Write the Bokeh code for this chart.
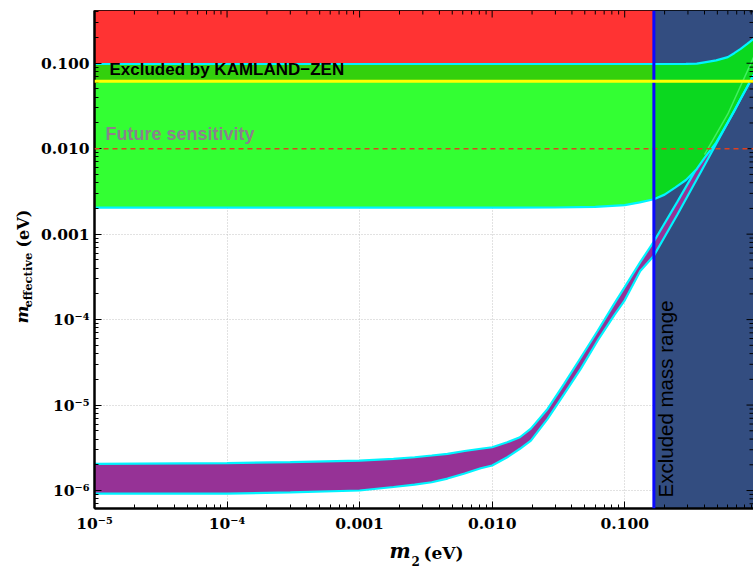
import numpy as np
from bokeh.plotting import figure
from bokeh.layouts import row, column
from bokeh.models import Range1d, FixedTicker, Span, Label
from bokeh.embed import file_html
from bokeh.resources import INLINE

# ---------------- axis limits and ticks ----------------
x_lim = [1e-5, 0.937]
y_lim = [6.16e-7, 0.414]
x_ticks = [1e-5, 1e-4, 1e-3, 1e-2, 1e-1]
x_tick_labels = ["10⁻⁵", "10⁻⁴", "0.001", "0.010", "0.100"]
y_ticks = [1e-6, 1e-5, 1e-4, 1e-3, 1e-2, 1e-1]
y_tick_labels = ["10⁻⁶", "10⁻⁵", "10⁻⁴", "0.001", "0.010", "0.100"]

# ---------------- limits ----------------
excluded_mass = 0.166        # eV, start of excluded mass range
kamland_limit = 0.0616       # eV, KAMLAND-ZEN bound
future_sensitivity = 0.01    # eV

# ---------------- normal hierarchy band (purple) ----------------
nh_m2 = [1e-5, 1e-4, 3e-4, 1e-3, 1.8e-3, 2.6e-3, 3.5e-3, 4.6e-3, 6.2e-3, 8.2e-3,
         1e-2, 1.3e-2, 1.62e-2, 1.96e-2, 2.62e-2, 3.5e-2, 4.67e-2, 6.26e-2, 8.35e-2, 0.1,
         0.131, 0.166, 0.25, 0.4, 0.6, 0.94]
nh_high = [2.05e-6, 2.09e-6, 2.15e-6, 2.24e-6, 2.35e-6, 2.45e-6, 2.57e-6, 2.69e-6, 2.9e-6, 3.08e-6,
           3.21e-6, 3.67e-6, 4.2e-6, 5.3e-6, 9.0e-6, 1.78e-5, 3.6e-5, 7.4e-5, 1.54e-4, 2.4e-4,
           4.7e-4, 8.2e-4, 2.4e-3, 8.5e-3, 2.55e-2, 0.118]
nh_low = [9.2e-7, 9.2e-7, 9.5e-7, 1.0e-6, 1.1e-6, 1.17e-6, 1.25e-6, 1.38e-6, 1.58e-6, 1.82e-6,
          1.96e-6, 2.45e-6, 3.08e-6, 3.84e-6, 6.9e-6, 1.35e-5, 2.67e-5, 5.7e-5, 1.13e-4, 1.68e-4,
          3.7e-4, 5.6e-4, 1.7e-3, 6.4e-3, 2.03e-2, 0.073]

# ---------------- inverted hierarchy band (green) ----------------
ih_m2 = [1e-5, 1e-3, 1e-2, 3e-2, 6e-2, 0.1, 0.13, 0.166, 0.2, 0.24,
         0.29, 0.35, 0.4, 0.49, 0.6, 0.67, 0.75, 0.84, 0.94]
ih_high = [0.098, 0.098, 0.098, 0.098, 0.098, 0.098, 0.098, 0.098, 0.098, 0.098,
           0.0982, 0.099, 0.1025, 0.108, 0.118, 0.131, 0.147, 0.168, 0.193]
ih_low = [2.04e-3, 2.04e-3, 2.04e-3, 2.05e-3, 2.08e-3, 2.19e-3, 2.35e-3, 2.56e-3, 2.9e-3, 3.5e-3,
          4.3e-3, 5.8e-3, 7.8e-3, 1.18e-2, 2.03e-2, 2.75e-2, 3.84e-2, 5.3e-2, 7.3e-2]

# ---------------- colours ----------------
RED = "#ff3333"
NAVY = "#334d80"
GREEN = "#33ff33"
GREEN_DARK = "#0bd81f"
STRIP = "#33d00d"
PURPLE = "#963296"
CYAN = "#00f4ff"

FRAME_W, FRAME_H = 660, 498
p = figure(width=716, height=538, x_axis_type="log", y_axis_type="log",
           x_range=Range1d(*x_lim), y_range=Range1d(*y_lim),
           output_backend="svg", toolbar_location=None,
           min_border_left=56, min_border_right=0, min_border_top=10, min_border_bottom=30,
           background_fill_color="white", border_fill_color="white")
p.outline_line_color = "black"
p.outline_line_width = 1

minor = [k * 10.0 ** e for e in range(-7, 1) for k in range(2, 10)]

def style_axis(ax, ticks, labels):
    ax.ticker = FixedTicker(ticks=ticks, minor_ticks=minor)
    ax.major_label_overrides = dict(zip(ticks, labels))
    ax.axis_line_color = "black"
    ax.axis_line_width = 2.5
    ax.major_tick_in = 7
    ax.major_tick_out = 0
    ax.minor_tick_in = 4
    ax.minor_tick_out = 0
    ax.major_tick_line_color = "black"
    ax.minor_tick_line_color = "black"
    ax.major_tick_line_width = 1
    ax.minor_tick_line_width = 1
    ax.major_label_text_font = "DejaVu Serif"
    ax.major_label_text_font_style = "bold"
    ax.major_label_text_font_size = "15.5px"
    ax.major_label_text_color = "black"

xb = p.below[0]
yl = p.left[0]
style_axis(xb, x_ticks, x_tick_labels)
style_axis(yl, y_ticks, y_tick_labels)
xb.major_label_standoff = 5
yl.major_label_standoff = 5

p.xgrid.grid_line_color = "#c4c4c4"
p.xgrid.grid_line_dash = "1 2"
p.ygrid.grid_line_color = "#c4c4c4"
p.ygrid.grid_line_dash = "1 2"

# ---------------- regions ----------------
p.quad(left=[excluded_mass], right=[x_lim[1]], bottom=[y_lim[0]], top=[y_lim[1]],
       fill_color=NAVY, line_color=None)
p.quad(left=[x_lim[0]], right=[excluded_mass], bottom=[kamland_limit], top=[y_lim[1]],
       fill_color=RED, line_color=None)

ih_x = np.array(ih_m2)
ih_lo = np.array(ih_low)
ih_hi = np.array(ih_high)
left = ih_x <= excluded_mass
rightm = ih_x >= excluded_mass

p.varea(x=ih_x[left], y1=ih_lo[left], y2=ih_hi[left], fill_color=GREEN)
p.varea(x=ih_x[left], y1=np.full(left.sum(), kamland_limit), y2=ih_hi[left], fill_color=STRIP)

nh_x = np.array(nh_m2)
nh_lo = np.array(nh_low)
nh_hi = np.array(nh_high)
p.varea(x=nh_x, y1=nh_lo, y2=nh_hi, fill_color=PURPLE)
p.line(nh_x, nh_hi, line_color=CYAN, line_width=2.2)

p.varea(x=ih_x[rightm], y1=ih_lo[rightm], y2=ih_hi[rightm], fill_color=GREEN_DARK)

upper_part = nh_x >= 0.4
p.line(nh_x[upper_part], nh_hi[upper_part], line_color="#40f060", line_width=1.5)
p.line(nh_x, nh_lo, line_color=CYAN, line_width=2.2)
p.line(ih_x, ih_hi, line_color=CYAN, line_width=2.2)
p.line(ih_x, ih_lo, line_color=CYAN, line_width=2.2)

p.add_layout(Span(location=future_sensitivity, dimension="width",
                  line_color="#e0401e", line_width=1.5, line_dash="5 4"))
p.add_layout(Span(location=excluded_mass, dimension="height",
                  line_color="#0a0aff", line_width=3))
p.add_layout(Span(location=kamland_limit, dimension="width",
                  line_color="#ffff00", line_width=3))

# ---------------- mirrored ticks on the top and right frame edges ----------------
x_dec_per_px = np.log10(x_lim[1] / x_lim[0]) / FRAME_W
y_dec_per_px = np.log10(y_lim[1] / y_lim[0]) / FRAME_H
x_minor = [t for t in minor if x_lim[0] < t < x_lim[1]]
y_minor = [t for t in minor if y_lim[0] < t < y_lim[1]]
for xs, length in ((x_ticks, 7), (x_minor, 4)):
    p.segment(x0=xs, x1=xs, y0=[y_lim[1]] * len(xs),
              y1=[y_lim[1] / 10 ** (length * y_dec_per_px)] * len(xs),
              line_color="black", line_width=1)
for ys, length in ((y_ticks, 7), (y_minor, 4)):
    p.segment(y0=ys, y1=ys, x0=[x_lim[1]] * len(ys),
              x1=[x_lim[1] / 10 ** (length * x_dec_per_px)] * len(ys),
              line_color="black", line_width=1)

# ---------------- texts inside the frame ----------------
p.add_layout(Label(x=15, y=429.5, x_units="screen", y_units="screen",
                   text="Excluded by KAMLAND−ZEN", text_font="Liberation Sans",
                   text_font_style="bold", text_font_size="17px", text_color="black"))
p.add_layout(Label(x=11, y=364.5, x_units="screen", y_units="screen",
                   text="Future sensitivity", text_font="Liberation Sans",
                   text_font_style="bold", text_font_size="18px", text_color="#8c808c"))
p.add_layout(Label(x=582, y=11, x_units="screen", y_units="screen",
                   text="Excluded mass range", text_font="Liberation Sans",
                   text_font_size="20.5px", text_color="black", angle=np.pi / 2))

# ---------------- axis title panels ----------------
def label_panel(w, h):
    f = figure(width=w, height=h, x_range=Range1d(0, 1), y_range=Range1d(0, 1),
               output_backend="svg", toolbar_location=None,
               x_axis_location=None, y_axis_location=None,
               min_border_left=0, min_border_right=0, min_border_top=0, min_border_bottom=0,
               background_fill_color="white", border_fill_color="white")
    f.outline_line_color = None
    f.grid.visible = False
    return f

ylab = label_panel(37, 569)
ylab.add_layout(Label(x=31.5, y=246, x_units="screen", y_units="screen", text="m",
                      text_font="DejaVu Serif", text_font_style="bold italic",
                      text_font_size="17px", text_color="black", angle=np.pi / 2))
ylab.add_layout(Label(x=34, y=262, x_units="screen", y_units="screen", text="effective",
                      text_font="DejaVu Serif", text_font_style="bold",
                      text_font_size="11.5px", text_color="black", angle=np.pi / 2))
ylab.add_layout(Label(x=32, y=322, x_units="screen", y_units="screen", text="(eV)",
                      text_font="DejaVu Serif", text_font_style="bold",
                      text_font_size="16px", text_color="black", angle=np.pi / 2))

# the column aligns this panel's frame with the main frame (left edge at page x 93)
xlab = label_panel(716, 31)
xlab.add_layout(Label(x=295, y=7, x_units="screen", y_units="screen", text="m",
                      text_font="DejaVu Serif", text_font_style="bold italic",
                      text_font_size="20px", text_color="black"))
xlab.add_layout(Label(x=317, y=4, x_units="screen", y_units="screen", text="2",
                      text_font="DejaVu Serif", text_font_style="bold",
                      text_font_size="12px", text_color="black"))
xlab.add_layout(Label(x=329, y=7, x_units="screen", y_units="screen", text="(eV)",
                      text_font="DejaVu Serif", text_font_style="bold",
                      text_font_size="17px", text_color="black"))

layout = row(ylab, column(p, xlab, spacing=0), spacing=0)

open("out.html", "w").write(file_html(layout, INLINE))
